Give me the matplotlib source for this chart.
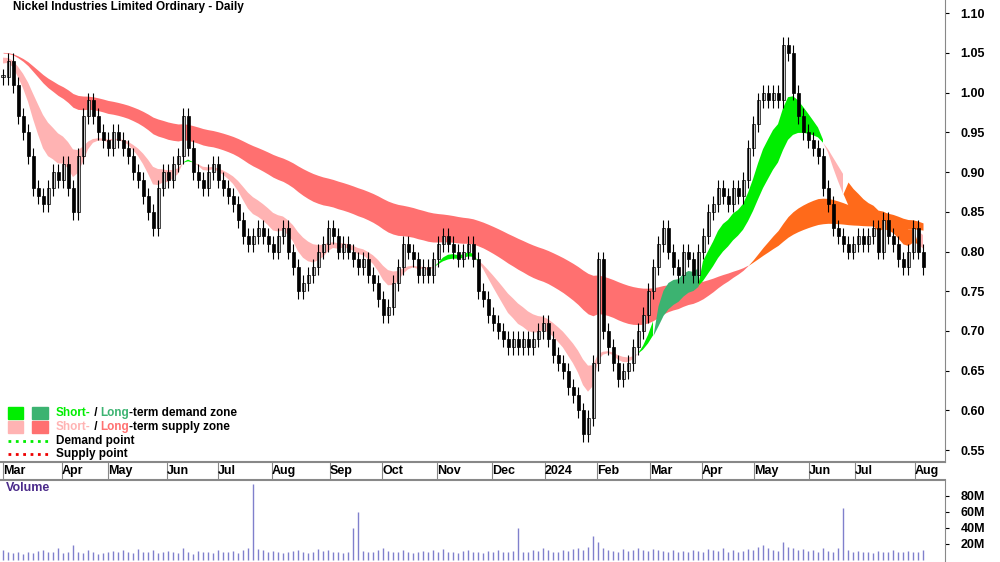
import numpy as np
import pandas as pd
import matplotlib
matplotlib.use("Agg")
import matplotlib.pyplot as plt
from matplotlib.patches import Rectangle

plt.rcParams['font.family'] = ['Liberation Sans', 'DejaVu Sans']

# earlier closes (before the visible window), only used to warm up the zones
warmup = [
    0.98, 1.00, 1.02, 1.04, 1.03, 1.05, 1.07, 1.06, 1.08, 1.05,
    1.03, 1.06, 1.08, 1.10, 1.07, 1.05, 1.04, 1.06, 1.08, 1.07,
    1.05, 1.03, 1.06, 1.09, 1.10, 1.08, 1.06, 1.04, 1.05, 1.07,
    1.06, 1.04, 1.03, 1.05, 1.06, 1.04, 1.02, 1.03, 1.05, 1.03,
]

# closes sampled every ~2 trading days, Mar 2023 .. Aug 2024
closes = [
    1.02, 1.04, 1.01, 0.97, 0.95, 0.92, 0.88, 0.87, 0.86, 0.88, 0.90, 0.89, 0.91,
    0.88, 0.85, 0.92, 0.97, 0.99, 0.97, 0.95, 0.94, 0.93,
    0.95, 0.94, 0.93, 0.92, 0.90, 0.89, 0.87, 0.85, 0.83, 0.88, 0.90, 0.89,
    0.91, 0.92, 0.97, 0.93, 0.90, 0.89, 0.88, 0.90, 0.91, 0.89,
    0.88, 0.87, 0.86, 0.84, 0.82, 0.81, 0.82, 0.83, 0.82, 0.81, 0.80,
    0.82, 0.83, 0.80, 0.78, 0.75, 0.76, 0.77, 0.78, 0.80, 0.81, 0.83, 0.82,
    0.80, 0.81, 0.80, 0.79, 0.78, 0.79, 0.77, 0.76, 0.74, 0.72,
    0.73, 0.76, 0.78, 0.81, 0.80, 0.79, 0.77, 0.78, 0.77, 0.79, 0.81,
    0.82, 0.81, 0.80, 0.79, 0.80, 0.81, 0.79, 0.75, 0.74, 0.72, 0.71,
    0.70, 0.69, 0.68, 0.69, 0.68, 0.69, 0.68, 0.69, 0.70, 0.71, 0.69,
    0.67, 0.66, 0.65, 0.63, 0.62, 0.60, 0.57, 0.59, 0.66, 0.79,
    0.70, 0.68, 0.66, 0.64, 0.65, 0.66, 0.68, 0.70, 0.72, 0.75, 0.78,
    0.81, 0.83, 0.80, 0.78, 0.77, 0.80, 0.79, 0.77, 0.80, 0.82,
    0.85, 0.86, 0.88, 0.87, 0.86, 0.88, 0.87, 0.89, 0.93, 0.96, 0.99,
    1.00, 0.99, 1.00, 0.99, 1.06, 1.05, 1.00, 0.97, 0.95, 0.94,
    0.93, 0.92, 0.88, 0.86, 0.83, 0.82, 0.81, 0.80, 0.81, 0.82,
    0.81, 0.82, 0.83, 0.80, 0.84, 0.82, 0.81, 0.79, 0.78, 0.80, 0.83, 0.80, 0.78,
]

# volume in millions
volume = [
    12, 9, 8, 10, 7, 9, 8, 11, 12, 10, 9, 14, 8,
    10, 18, 9, 8, 12, 9, 7, 8, 10,
    11, 9, 12, 10, 8, 13, 9, 10, 12, 8, 9, 11,
    10, 8, 14, 9, 7, 11, 10, 9, 8, 12,
    9, 10, 11, 8, 12, 14, 95, 13, 12, 10, 11,
    9, 8, 10, 11, 12, 9, 8, 10, 13, 11, 12, 9,
    10, 8, 9, 40, 60, 11, 9, 10, 12, 14,
    11, 10, 9, 12, 10, 8, 9, 11, 10, 12, 9,
    13, 10, 9, 8, 11, 12, 10, 9, 8, 11, 10,
    12, 9, 10, 11, 40, 10, 9, 12, 11, 14, 12,
    10, 9, 12, 11, 13, 14, 12, 16, 30, 22,
    14, 12, 11, 10, 13, 11, 12, 14, 12, 11, 13,
    12, 11, 10, 12, 9, 11, 10, 12, 11, 10,
    13, 12, 11, 14, 10, 12, 9, 11, 13, 12, 16,
    18, 14, 12, 11, 22, 16, 14, 12, 13, 11,
    12, 10, 14, 11, 9, 15, 65, 12, 10, 11,
    9, 10, 8, 11, 9, 10, 12, 9, 10, 11, 9, 10, 12,
]

month_labels = ["Mar", "Apr", "May", "Jun", "Jul", "Aug", "Sep", "Oct", "Nov", "Dec",
                "2024", "Feb", "Mar", "Apr", "May", "Jun", "Jul", "Aug"]
month_px = [3, 62, 108, 167, 218, 272, 330, 382, 437, 492, 545, 597, 650, 702, 754, 809, 855, 915]

closes = np.array(closes)
volume = np.array(volume)
n = len(closes)
x = np.arange(n)
opens = np.r_[closes[0], closes[:-1]]
highs = np.maximum(opens, closes) + 0.01
lows = np.minimum(opens, closes) - 0.01

w = len(warmup)
s = pd.Series(np.r_[warmup, closes])
sf = s.ewm(span=9).mean().values[w:]
ss = s.ewm(span=18).mean().values[w:]
lf = s.ewm(span=50).mean().values[w:]
ls = s.ewm(span=95).mean().values[w:]

fig = plt.figure(figsize=(10, 5.62), dpi=100)
ax = fig.add_axes([0.0, 1 - 462 / 562, 0.945, 462 / 562])
axv = fig.add_axes([0.0, 0.0, 0.945, 82 / 562])

# long-term band
ltop, lbot = np.maximum(lf, ls), np.minimum(lf, ls)
lup = lf >= ls
ax.fill_between(x, lbot, ltop, where=~lup, color="#ff7070", lw=0, interpolate=True)
ax.fill_between(x, lbot, ltop, where=lup, color="#ff6a1a", lw=0, interpolate=True)
# short-term band
stop, sbot = np.maximum(sf, ss), np.minimum(sf, ss)
sup = sf >= ss
overlap = (stop > lbot) & (sbot < ltop)
ax.fill_between(x, sbot, stop, where=sup & ~overlap, color="#00ee00", lw=0, interpolate=True)
ax.fill_between(x, sbot, stop, where=~sup & ~overlap, color="#ffb3b3", lw=0, interpolate=True)
ax.fill_between(x, sbot, stop, where=overlap & sup, color="#3cb371", lw=0, interpolate=True)
ax.fill_between(x, sbot, stop, where=overlap & ~sup, color="#ff6a1a", lw=0, interpolate=True)

# candles
up = closes >= opens
ax.vlines(x, lows, highs, color="black", lw=0.8)
for i in range(n):
    lo = min(opens[i], closes[i])
    h = max(abs(closes[i] - opens[i]), 0.002)
    ax.add_patch(Rectangle((i - 0.3, lo), 0.6, h,
                           facecolor="#d8d8d8" if up[i] else "black",
                           edgecolor="black", lw=0.5))

xmin, xmax = -0.6, 188.4
ax.set_xlim(xmin, xmax)
ax.set_ylim(0.5352, 1.1164)
ax.yaxis.tick_right()
yt = np.arange(0.55, 1.101, 0.05)
ax.set_yticks(yt)
ax.set_yticklabels([f"{v:.2f}" for v in yt], fontsize=9, fontweight="bold")
ax.tick_params(axis="y", length=3, pad=8)
ax.set_xticks([p / 5 + xmin for p in month_px])
ax.set_xticklabels(month_labels, fontsize=9, fontweight="bold", ha="left")
ax.tick_params(axis="x", length=17, direction="out", pad=-15, color="#888888")
for sp in ["top", "left"]:
    ax.spines[sp].set_visible(False)
ax.spines["right"].set_color("#888888")
ax.spines["bottom"].set_color("#888888")
ax.spines["bottom"].set_linewidth(1.5)

ax.text(2, 1.108, "Nickel Industries Limited Ordinary - Daily", fontsize=8.5,
        fontweight="bold", va="center")

# legend
rows = [0.5969, 0.5792, 0.5616, 0.5453]
h = 0.016
ax.add_patch(Rectangle((1.0, rows[0] - h / 2), 3.0, h, color="#00ee00"))
ax.add_patch(Rectangle((5.8, rows[0] - h / 2), 3.2, h, color="#3cb371"))
ax.add_patch(Rectangle((1.0, rows[1] - h / 2), 3.0, h, color="#ffb3b3"))
ax.add_patch(Rectangle((5.8, rows[1] - h / 2), 3.2, h, color="#ff7070"))
ax.plot([1.0, 9.0], [rows[2]] * 2, ls=":", color="#00ee00", lw=2)
ax.plot([1.0, 9.0], [rows[3]] * 2, ls=":", color="#ee0000", lw=2)
tx = 10.6
kw = dict(fontsize=8.5, fontweight="bold", va="center")
for row, c2, tail in [(rows[0], ("#00ee00", "#3cb371"), "-term demand zone"),
                      (rows[1], ("#ffb3b3", "#ff7070"), "-term supply zone")]:
    t = ax.text(tx, row, "Short-", color=c2[0], **kw)
    t = ax.annotate(" / ", xy=(1, 0.5), xycoords=t, ha="left", **kw)
    t = ax.annotate("Long", xy=(1, 0.5), xycoords=t, ha="left", color=c2[1], **kw)
    ax.annotate(tail, xy=(1, 0.5), xycoords=t, ha="left", **kw)
ax.text(tx, rows[2], "Demand point", **kw)
ax.text(tx, rows[3], "Supply point", **kw)

# volume
axv.vlines(x, 0, volume, color="#8080cc", lw=1)
axv.set_xlim(xmin, xmax)
axv.set_ylim(-3, 100)
axv.yaxis.tick_right()
axv.set_yticks([20, 40, 60, 80])
axv.set_yticklabels(["20M", "40M", "60M", "80M"], fontsize=9, fontweight="bold")
axv.tick_params(axis="y", length=3, pad=8)
axv.set_xticks([])
for sp in ["left", "bottom"]:
    axv.spines[sp].set_visible(False)
axv.spines["top"].set_color("#888888")
axv.spines["top"].set_linewidth(1.5)
axv.spines["right"].set_color("#888888")
axv.text(0.5, 90, "Volume", color="#4b2a8a", fontsize=9, fontweight="bold", va="center")

fig.savefig("out.png", dpi=100)
